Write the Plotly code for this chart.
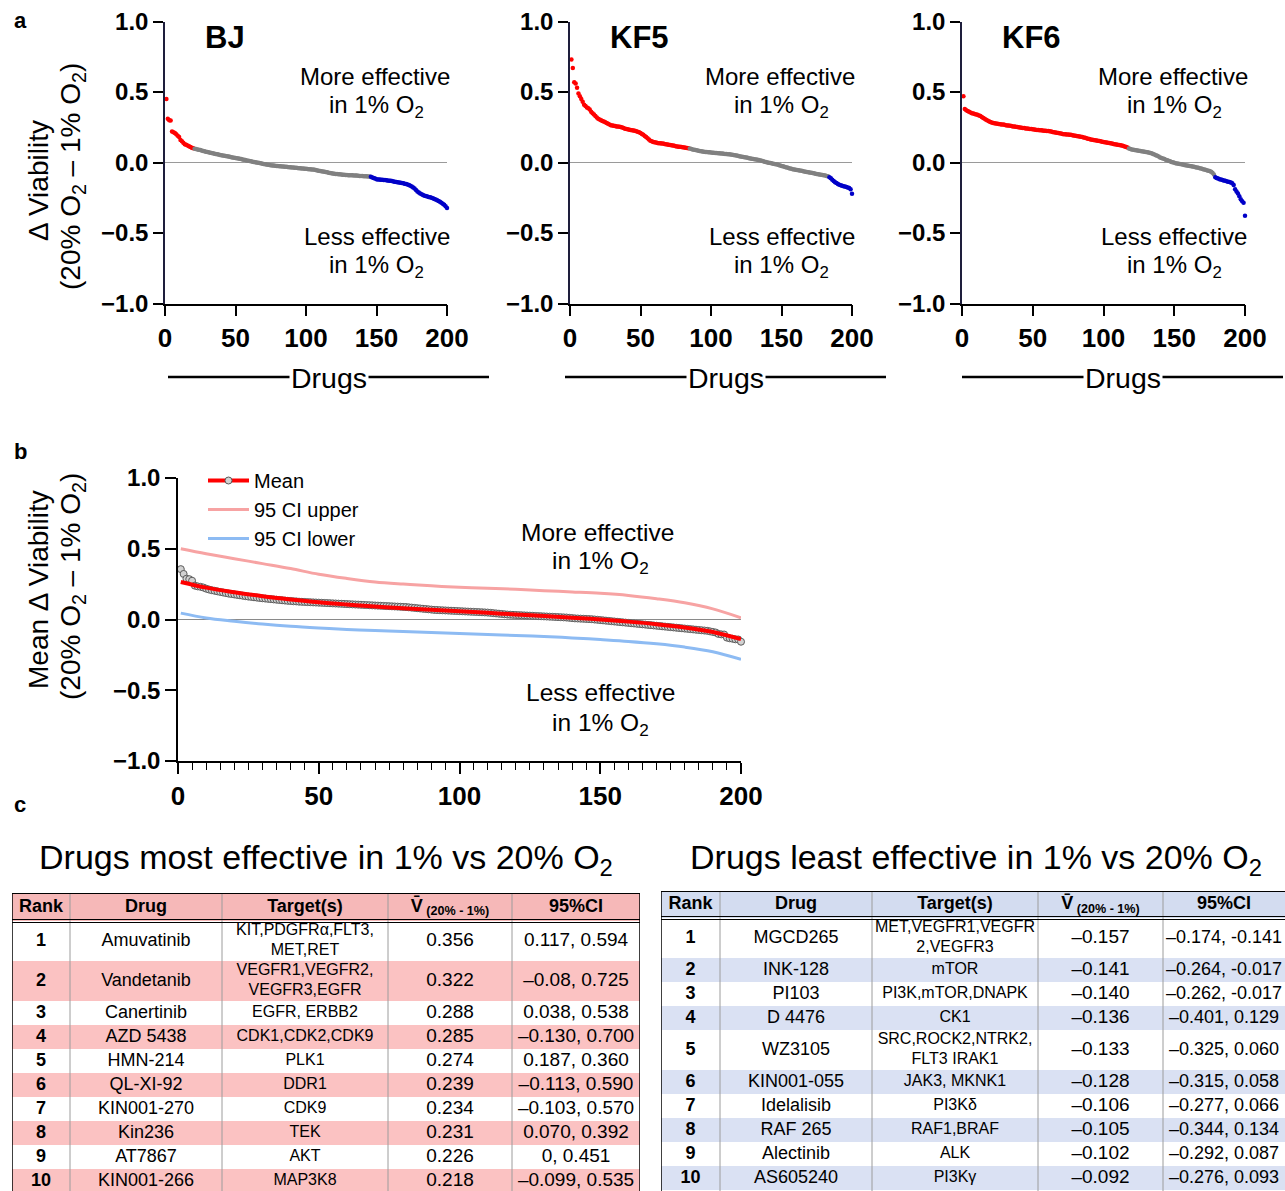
import plotly.graph_objects as go

W, H = 1285, 1191
FONT = "Liberation Sans, Arial, sans-serif"

# ---------------- data: panel a (sorted delta viability, 200 drugs) ----------------
bj_delta = [
    0.450, 0.310, 0.300, 0.298, 0.220, 0.215, 0.210, 0.200, 0.190, 0.180,
    0.160, 0.150, 0.140, 0.130, 0.125, 0.120, 0.115, 0.110, 0.105, 0.101,
    0.098, 0.095, 0.093, 0.090, 0.088, 0.085, 0.082, 0.080, 0.077, 0.075,
    0.072, 0.070, 0.067, 0.065, 0.062, 0.060, 0.058, 0.056, 0.054, 0.052,
    0.050, 0.048, 0.046, 0.044, 0.042, 0.040, 0.038, 0.036, 0.034, 0.032,
    0.030, 0.028, 0.026, 0.024, 0.022, 0.020, 0.017, 0.014, 0.012, 0.010,
    0.008, 0.006, 0.004, 0.002, 0.000, -0.002, -0.004, -0.006, -0.008, -0.010,
    -0.012, -0.014, -0.016, -0.018, -0.020, -0.021, -0.022, -0.023, -0.024, -0.025,
    -0.026, -0.027, -0.028, -0.029, -0.030, -0.031, -0.032, -0.033, -0.034, -0.035,
    -0.036, -0.037, -0.038, -0.039, -0.040, -0.041, -0.042, -0.043, -0.044, -0.045,
    -0.046, -0.047, -0.048, -0.049, -0.050, -0.052, -0.054, -0.056, -0.058, -0.060,
    -0.062, -0.064, -0.066, -0.068, -0.070, -0.072, -0.074, -0.076, -0.078, -0.080,
    -0.081, -0.082, -0.083, -0.084, -0.085, -0.086, -0.087, -0.088, -0.089, -0.090,
    -0.090, -0.091, -0.091, -0.092, -0.093, -0.093, -0.094, -0.095, -0.095, -0.096,
    -0.097, -0.097, -0.098, -0.099, -0.099, -0.101, -0.106, -0.110, -0.114, -0.118,
    -0.120, -0.121, -0.122, -0.123, -0.124, -0.125, -0.126, -0.128, -0.129, -0.130,
    -0.132, -0.134, -0.136, -0.138, -0.140, -0.142, -0.144, -0.146, -0.148, -0.150,
    -0.153, -0.156, -0.160, -0.165, -0.170, -0.177, -0.185, -0.195, -0.205, -0.213,
    -0.220, -0.226, -0.231, -0.235, -0.238, -0.241, -0.244, -0.247, -0.250, -0.253,
    -0.258, -0.263, -0.268, -0.273, -0.279, -0.285, -0.292, -0.300, -0.310, -0.322,
]

kf5_delta = [
    0.730, 0.670, 0.570, 0.560, 0.530, 0.490, 0.470, 0.450, 0.430, 0.410,
    0.400, 0.390, 0.385, 0.375, 0.360, 0.350, 0.340, 0.330, 0.320, 0.310,
    0.305, 0.300, 0.295, 0.290, 0.285, 0.280, 0.275, 0.270, 0.265, 0.262,
    0.260, 0.258, 0.256, 0.255, 0.254, 0.252, 0.248, 0.244, 0.240, 0.237,
    0.235, 0.233, 0.231, 0.229, 0.227, 0.225, 0.222, 0.218, 0.214, 0.209,
    0.203, 0.196, 0.188, 0.180, 0.172, 0.163, 0.155, 0.150, 0.146, 0.143,
    0.141, 0.139, 0.137, 0.136, 0.135, 0.134, 0.132, 0.130, 0.128, 0.126,
    0.124, 0.122, 0.120, 0.118, 0.116, 0.114, 0.112, 0.111, 0.110, 0.108,
    0.106, 0.104, 0.102, 0.101, 0.099, 0.096, 0.093, 0.090, 0.088, 0.086,
    0.084, 0.082, 0.080, 0.078, 0.077, 0.075, 0.074, 0.073, 0.072, 0.071,
    0.070, 0.069, 0.068, 0.067, 0.066, 0.065, 0.064, 0.063, 0.062, 0.061,
    0.060, 0.059, 0.058, 0.056, 0.055, 0.053, 0.051, 0.049, 0.047, 0.045,
    0.043, 0.041, 0.039, 0.037, 0.035, 0.033, 0.031, 0.029, 0.027, 0.025,
    0.023, 0.021, 0.019, 0.017, 0.015, 0.012, 0.009, 0.006, 0.003, 0.000,
    -0.002, -0.004, -0.006, -0.008, -0.010, -0.012, -0.015, -0.018, -0.021, -0.024,
    -0.027, -0.030, -0.033, -0.036, -0.039, -0.042, -0.045, -0.047, -0.049, -0.051,
    -0.053, -0.055, -0.057, -0.059, -0.061, -0.063, -0.065, -0.067, -0.069, -0.071,
    -0.073, -0.075, -0.077, -0.079, -0.081, -0.083, -0.085, -0.087, -0.089, -0.091,
    -0.093, -0.095, -0.098, -0.104, -0.112, -0.122, -0.132, -0.140, -0.146, -0.152,
    -0.158, -0.162, -0.165, -0.168, -0.171, -0.174, -0.177, -0.180, -0.190, -0.222,
]

kf6_delta = [
    0.470, 0.380, 0.370, 0.365, 0.360, 0.355, 0.350, 0.347, 0.344, 0.341,
    0.338, 0.334, 0.329, 0.322, 0.316, 0.310, 0.304, 0.298, 0.292, 0.287,
    0.283, 0.280, 0.278, 0.276, 0.275, 0.273, 0.272, 0.270, 0.269, 0.267,
    0.265, 0.263, 0.262, 0.260, 0.258, 0.256, 0.255, 0.253, 0.251, 0.250,
    0.248, 0.247, 0.245, 0.244, 0.242, 0.241, 0.240, 0.238, 0.237, 0.235,
    0.234, 0.232, 0.231, 0.230, 0.229, 0.228, 0.227, 0.226, 0.225, 0.224,
    0.223, 0.221, 0.219, 0.217, 0.215, 0.213, 0.211, 0.209, 0.207, 0.205,
    0.203, 0.201, 0.200, 0.199, 0.198, 0.197, 0.196, 0.194, 0.192, 0.190,
    0.188, 0.186, 0.184, 0.182, 0.180, 0.178, 0.175, 0.172, 0.169, 0.166,
    0.164, 0.162, 0.160, 0.158, 0.156, 0.154, 0.152, 0.150, 0.148, 0.146,
    0.144, 0.142, 0.140, 0.138, 0.136, 0.134, 0.132, 0.130, 0.128, 0.126,
    0.124, 0.122, 0.120, 0.117, 0.114, 0.110, 0.106, 0.099, 0.096, 0.093,
    0.091, 0.089, 0.087, 0.085, 0.083, 0.081, 0.079, 0.078, 0.077, 0.075,
    0.073, 0.071, 0.068, 0.065, 0.061, 0.057, 0.052, 0.047, 0.042, 0.036,
    0.032, 0.028, 0.024, 0.020, 0.016, 0.012, 0.008, 0.004, 0.001, -0.002,
    -0.005, -0.007, -0.009, -0.011, -0.013, -0.015, -0.017, -0.019, -0.021, -0.023,
    -0.025, -0.027, -0.029, -0.031, -0.033, -0.035, -0.037, -0.040, -0.043, -0.046,
    -0.049, -0.052, -0.055, -0.058, -0.061, -0.065, -0.072, -0.085, -0.104, -0.110,
    -0.114, -0.118, -0.121, -0.124, -0.127, -0.130, -0.133, -0.136, -0.139, -0.142,
    -0.148, -0.160, -0.190, -0.205, -0.220, -0.240, -0.260, -0.275, -0.285, -0.378,
]

# ---------------- data: tables (panel c) ----------------
ranks = list(range(1, 11))
table_headers = ["Rank", "Drug", "Target(s)", "V\u0304", "95%CI"]
v_header_sub = "(20% - 1%)"

drugs_most = ["Amuvatinib", "Vandetanib", "Canertinib", "AZD 5438", "HMN-214",
              "QL-XI-92", "KIN001-270", "Kin236", "AT7867", "KIN001-266"]
targets_most = ["KIT,PDGFRα,FLT3,<br>MET,RET", "VEGFR1,VEGFR2,<br>VEGFR3,EGFR", "EGFR, ERBB2",
                "CDK1,CDK2,CDK9", "PLK1", "DDR1", "CDK9", "TEK", "AKT", "MAP3K8"]
v_most = [0.356, 0.322, 0.288, 0.285, 0.274, 0.239, 0.234, 0.231, 0.226, 0.218]
ci_most = ["0.117, 0.594", "\u20130.08, 0.725", "0.038, 0.538", "\u20130.130, 0.700", "0.187, 0.360",
           "\u20130.113, 0.590", "\u20130.103, 0.570", "0.070, 0.392", "0, 0.451", "\u20130.099, 0.535"]

drugs_least = ["MGCD265", "INK-128", "PI103", "D 4476", "WZ3105",
               "KIN001-055", "Idelalisib", "RAF 265", "Alectinib", "AS605240"]
targets_least = ["MET,VEGFR1,VEGFR<br>2,VEGFR3", "mTOR", "PI3K,mTOR,DNAPK", "CK1",
                 "SRC,ROCK2,NTRK2,<br>FLT3 IRAK1", "JAK3, MKNK1", "PI3Kδ", "RAF1,BRAF", "ALK", "PI3Kγ"]
v_least = [-0.157, -0.141, -0.140, -0.136, -0.133, -0.128, -0.106, -0.105, -0.102, -0.092]
ci_least = ["\u20130.174, -0.141", "\u20130.264, -0.017", "\u20130.262, -0.017", "\u20130.401, 0.129",
            "\u20130.325, 0.060", "\u20130.315, 0.058", "\u20130.277, 0.066", "\u20130.344, 0.134",
            "\u20130.292, 0.087", "\u20130.276, 0.093"]

# ---------------- data: panel b (mean delta viability, ranks 11..190) ----------------
mean_mid = [
    0.212, 0.207, 0.203, 0.199, 0.195, 0.191, 0.187, 0.183, 0.180, 0.177,
    0.174, 0.171, 0.168, 0.165, 0.162, 0.160, 0.157, 0.155, 0.152, 0.150,
    0.148, 0.146, 0.144, 0.142, 0.140, 0.138, 0.136, 0.134, 0.132, 0.131,
    0.129, 0.128, 0.126, 0.125, 0.124, 0.123, 0.122, 0.121, 0.120, 0.119,
    0.118, 0.117, 0.116, 0.115, 0.114, 0.113, 0.112, 0.111, 0.110, 0.109,
    0.108, 0.107, 0.106, 0.105, 0.104, 0.103, 0.102, 0.101, 0.100, 0.099,
    0.098, 0.097, 0.096, 0.095, 0.094, 0.093, 0.092, 0.091, 0.090, 0.089,
    0.088, 0.086, 0.084, 0.082, 0.080, 0.078, 0.076, 0.074, 0.072, 0.070,
    0.068, 0.067, 0.066, 0.065, 0.064, 0.063, 0.062, 0.061, 0.060, 0.059,
    0.058, 0.057, 0.056, 0.055, 0.054, 0.053, 0.052, 0.051, 0.050, 0.049,
    0.047, 0.045, 0.043, 0.041, 0.039, 0.037, 0.035, 0.034, 0.033, 0.032,
    0.031, 0.030, 0.029, 0.028, 0.027, 0.026, 0.025, 0.024, 0.023, 0.022,
    0.021, 0.020, 0.019, 0.018, 0.017, 0.016, 0.015, 0.014, 0.012, 0.010,
    0.008, 0.007, 0.006, 0.005, 0.004, 0.003, 0.002, 0.000, -0.002, -0.004,
    -0.006, -0.008, -0.010, -0.012, -0.014, -0.016, -0.018, -0.020, -0.022, -0.024,
    -0.026, -0.028, -0.030, -0.032, -0.034, -0.036, -0.038, -0.040, -0.042, -0.044,
    -0.046, -0.048, -0.050, -0.052, -0.054, -0.056, -0.058, -0.060, -0.062, -0.064,
    -0.066, -0.068, -0.070, -0.072, -0.074, -0.076, -0.078, -0.080, -0.084, -0.088,
]
mean_delta = v_most + mean_mid + v_least[::-1]

fit_rank = [1, 10, 20, 30, 40, 50, 60, 70, 80, 90, 100, 110, 120, 130, 140, 150, 160, 170, 180, 190, 200]
fit_mean = [0.265, 0.225, 0.193, 0.165, 0.142, 0.122, 0.106, 0.092, 0.080, 0.069, 0.058,
            0.047, 0.036, 0.025, 0.013, 0.000, -0.015, -0.033, -0.056, -0.088, -0.138]
ci_upper = [0.500, 0.465, 0.430, 0.395, 0.360, 0.320, 0.290, 0.265, 0.250, 0.238, 0.228,
            0.221, 0.213, 0.204, 0.195, 0.185, 0.170, 0.147, 0.118, 0.075, 0.012]
ci_lower = [0.045, 0.011, -0.012, -0.032, -0.048, -0.060, -0.070, -0.078, -0.085, -0.092, -0.099,
            -0.106, -0.113, -0.120, -0.130, -0.142, -0.155, -0.172, -0.195, -0.228, -0.282]

assert len(bj_delta) == 200 and len(kf5_delta) == 200 and len(kf6_delta) == 200
assert len(mean_delta) == 200

# ---------------- style ----------------
RED, GRAY, BLUE = "#ff0000", "#808080", "#0000c8"
PINK_LINE, BLUE_LINE = "#f7a3a3", "#8dbbf3"
PINK_H, PINK_R = "#f6b8b8", "#fbc2c2"
BLUE_H, BLUE_R = "#d3dcf0", "#dae1f3"
ROW_H, ROW_H2 = 24, 40


def px(x):
    return x / W


def py(y):
    return 1 - y / H


fig = go.Figure()
shapes = []
lay = {}

# ---------------- panel a ----------------
panels = [("BJ", bj_delta, "", 165, 447), ("KF5", kf5_delta, "2", 570, 852), ("KF6", kf6_delta, "3", 962, 1245)]
for name, vals, n, x0, x1 in panels:
    ranks_all = list(range(1, len(vals) + 1))
    cols = [RED if v >= 0.1 else (BLUE if v <= -0.1 else GRAY) for v in vals]
    fig.add_trace(go.Scatter(x=ranks_all, y=vals, mode="markers", xaxis="x" + n, yaxis="y" + n,
                             marker=dict(color=cols, size=4.5, line=dict(width=0)),
                             showlegend=False, cliponaxis=False, hoverinfo="x+y"))

# ---------------- panel b ----------------
rank_all = list(range(1, len(mean_delta) + 1))
fig.add_trace(go.Scatter(x=rank_all, y=mean_delta, mode="markers", xaxis="x4", yaxis="y4",
                         marker=dict(color="#d2d2d2", size=7, line=dict(color="#5a5a5a", width=1)),
                         showlegend=False, cliponaxis=False))
fig.add_trace(go.Scatter(x=fit_rank, y=fit_mean, mode="lines", xaxis="x4", yaxis="y4",
                         line=dict(color=RED, width=4, shape="spline"), showlegend=False))
fig.add_trace(go.Scatter(x=[None], y=[None], mode="lines+markers", xaxis="x4", yaxis="y4", name="Mean",
                         line=dict(color=RED, width=4),
                         marker=dict(color="#d2d2d2", size=7, line=dict(color="#5a5a5a", width=1))))
fig.add_trace(go.Scatter(x=fit_rank, y=ci_upper, mode="lines", xaxis="x4", yaxis="y4", name="95 CI upper",
                         line=dict(color=PINK_LINE, width=3, shape="spline")))
fig.add_trace(go.Scatter(x=fit_rank, y=ci_lower, mode="lines", xaxis="x4", yaxis="y4", name="95 CI lower",
                         line=dict(color=BLUE_LINE, width=3, shape="spline")))


# ---------------- panel c tables (cells drawn as bars + text on hidden axes) ----------------
def add_table(n, drugs, targets, vals, cis, hfill, rfill, x0, ytop, col_w, head_h, sizes):
    xa, ya = "x" + n, "y" + n
    row_h = [ROW_H2 if "<br>" in t else ROW_H for t in targets]
    tops, acc = [], head_h
    for h in row_h:
        tops.append(acc)
        acc += h
    centers = [t + h / 2 for t, h in zip(tops, row_h)]
    lefts, a = [], 0
    for w in col_w:
        lefts.append(a)
        a += w
    total = a
    vis_w = min(total, W - x0)
    mids = [(l + min(l + w, vis_w)) / 2 for l, w in zip(lefts, col_w)]
    row_fill = ["white" if i % 2 == 0 else rfill for i in range(len(drugs))]
    vtxt = [("%.3f" % v).replace("-", "\u2013") for v in vals]
    columns = [["<b>%d</b>" % r for r in ranks], drugs, targets, vtxt, cis]
    headers = ["<b>%s</b>" % h for h in table_headers]
    headers[3] = "<b>%s</b><sub><b> %s</b></sub>" % (table_headers[3], v_header_sub)

    # header cells
    fig.add_trace(go.Bar(orientation="h", y=[head_h / 2] * len(col_w), x=col_w, base=lefts,
                         width=[head_h] * len(col_w), marker=dict(color=hfill, line=dict(width=0)),
                         xaxis=xa, yaxis=ya, showlegend=False, hoverinfo="skip"))
    fig.add_trace(go.Scatter(x=mids, y=[head_h / 2] * len(col_w),
                             text=headers, mode="text", textposition="middle center",
                             textfont=dict(family=FONT, size=18, color="black"),
                             xaxis=xa, yaxis=ya, showlegend=False, hoverinfo="skip", cliponaxis=False))
    # body cells
    for j in range(len(col_w)):
        fig.add_trace(go.Bar(orientation="h", y=centers, x=[col_w[j]] * len(centers),
                             base=[lefts[j]] * len(centers), width=row_h,
                             marker=dict(color=row_fill, line=dict(width=0)),
                             xaxis=xa, yaxis=ya, showlegend=False, hoverinfo="skip"))
        fig.add_trace(go.Scatter(x=[mids[j]] * len(centers), y=centers, text=columns[j],
                                 mode="text", textposition="middle center",
                                 textfont=dict(family=FONT, size=sizes[j], color="black"),
                                 xaxis=xa, yaxis=ya, showlegend=False, hoverinfo="skip", cliponaxis=False))
    span = H - ytop
    lay["xaxis" + n] = dict(domain=[px(x0), px(x0 + vis_w)], range=[0, vis_w], anchor=ya, visible=False,
                            fixedrange=True)
    lay["yaxis" + n] = dict(domain=[0, py(ytop)], range=[span, 0], anchor=xa, visible=False, fixedrange=True)
    # grid lines
    for l in lefts[1:]:
        shapes.append(dict(type="line", xref=xa, yref=ya, x0=l, x1=l, y0=0, y1=span,
                           line=dict(color="#9c9c9c", width=1)))
    shapes.append(dict(type="line", xref=xa, yref=ya, x0=0, x1=0, y0=0, y1=span,
                       line=dict(color="black", width=1.5)))
    if total <= vis_w:
        shapes.append(dict(type="line", xref=xa, yref=ya, x0=total, x1=total, y0=0, y1=span,
                           line=dict(color="black", width=1.5)))
    shapes.append(dict(type="line", xref=xa, yref=ya, x0=0, x1=total, y0=0, y1=0,
                       line=dict(color="black", width=2)))
    for dy in (-1.5, 1.5):
        shapes.append(dict(type="line", xref=xa, yref=ya, x0=0, x1=total, y0=head_h + dy, y1=head_h + dy,
                           line=dict(color="black", width=1.2)))


add_table("5", drugs_most, targets_most, v_most, ci_most, PINK_H, PINK_R, 12, 893,
          [58, 152, 166, 124, 128], 28, [18, 18, 16, 19, 19])
add_table("6", drugs_least, targets_least, v_least, ci_least, BLUE_H, BLUE_R, 661, 891,
          [59, 152, 166, 125, 128], 27, [18, 18, 16, 19, 18])

# ---------------- axes ----------------
tick_font = dict(family=FONT, size=24, color="black", weight="bold")
xtick_font = dict(family=FONT, size=26, color="black", weight="bold")
ya_top, ya_bot = 21.5, 303.5
for name, vals, n, x0, x1 in panels:
    lay["xaxis" + n] = dict(domain=[px(x0), px(x1)], range=[0, 200], anchor="y" + n,
                            tickvals=[0, 50, 100, 150, 200], ticks="outside", ticklen=11, tickwidth=1.5,
                            tickcolor="black", showline=True, linecolor="black", linewidth=1.5,
                            showgrid=False, zeroline=False, tickfont=xtick_font, fixedrange=True,
                            automargin=False)
    lay["yaxis" + n] = dict(domain=[py(ya_bot), py(ya_top)], range=[-1, 1], anchor="x" + n,
                            tickvals=[-1, -0.5, 0, 0.5, 1], tickformat=".1f", ticks="outside", ticklen=10,
                            tickwidth=1.5, tickcolor="black", showline=True, linecolor="#1e1e3c", linewidth=1.5,
                            showgrid=False, zeroline=True, zerolinecolor="#9a9a9a", zerolinewidth=1.2,
                            tickfont=tick_font, fixedrange=True, automargin=False)

lay["xaxis4"] = dict(domain=[px(178), px(741)], range=[0, 200], anchor="y4",
                     tickvals=[0, 50, 100, 150, 200], ticks="outside", ticklen=11, tickwidth=1.5,
                     tickcolor="black", showline=True, linecolor="black", linewidth=1.5,
                     minor=dict(dtick=5, ticks="outside", ticklen=7, tickwidth=1.2, tickcolor="black", showgrid=False),
                     showgrid=False, zeroline=False, tickfont=xtick_font, fixedrange=True, automargin=False)
lay["yaxis4"] = dict(domain=[py(761), py(478)], range=[-1, 1], anchor="x4",
                     tickvals=[-1, -0.5, 0, 0.5, 1], tickformat=".1f", ticks="outside", ticklen=11,
                     tickwidth=1.5, tickcolor="black", showline=True, linecolor="black", linewidth=1.5,
                     showgrid=False, zeroline=True, zerolinecolor="#8a8a8a", zerolinewidth=1.2,
                     tickfont=tick_font, fixedrange=True, automargin=False)

# ---------------- annotations ----------------
ann = []


def txt(x, y, s, size, xref="paper", yref="paper", bold=False, **kw):
    d = dict(x=x, y=y, xref=xref, yref=yref, text=s, showarrow=False,
             font=dict(family=FONT, size=size, color="black", weight="bold" if bold else "normal"))
    d.update(kw)
    ann.append(d)


# panel letters
txt(px(12), py(20), "a", 22, bold=True, xanchor="left", yanchor="middle")
txt(px(12), py(452), "b", 22, bold=True, xanchor="left", yanchor="middle")
txt(px(12), py(804), "c", 22, bold=True, xanchor="left", yanchor="middle")

O2 = "O<sub>2</sub>"
for name, vals, n, x0, x1 in panels:
    xr, yr = "x" + n, "y" + n
    txt(27, 0.885, name, 31, xref=xr, yref=yr, bold=True, xanchor="left", yanchor="middle")
    txt(149, 0.612, "More effective", 24, xref=xr, yref=yr, xanchor="center", yanchor="middle")
    txt(150, 0.40, "in 1% " + O2, 24, xref=xr, yref=yr, xanchor="center", yanchor="middle")
    txt(150, -0.528, "Less effective", 24, xref=xr, yref=yr, xanchor="center", yanchor="middle")
    txt(150, -0.74, "in 1% " + O2, 24, xref=xr, yref=yr, xanchor="center", yanchor="middle")

# "Drugs" labels with lines
drug_lines = [(168, 489), (565, 886), (962, 1283)]
for a0, a1 in drug_lines:
    shapes.append(dict(type="line", xref="paper", yref="paper", x0=px(a0), x1=px(a1),
                       y0=py(377), y1=py(377), line=dict(color="black", width=2.5)))
    txt(px((a0 + a1) / 2), py(378), "Drugs", 28.5, xanchor="center", yanchor="middle",
        bgcolor="white", borderpad=1)

# y-axis titles (one annotation per line)
ytitle2 = "(20% " + O2 + " \u2013 1% " + O2 + ")"
txt(px(38), py(181), "\u0394 Viability", 28, textangle=-90, xanchor="center", yanchor="middle")
txt(px(72), py(177), ytitle2, 28, textangle=-90, xanchor="center", yanchor="middle")
txt(px(38), py(590), "Mean \u0394 Viability", 28, textangle=-90, xanchor="center", yanchor="middle")
txt(px(72), py(587), ytitle2, 28, textangle=-90, xanchor="center", yanchor="middle")

# panel b texts
txt(149, 0.618, "More effective", 24.5, xref="x4", yref="y4", xanchor="center", yanchor="middle")
txt(150, 0.40, "in 1% " + O2, 24.5, xref="x4", yref="y4", xanchor="center", yanchor="middle")
txt(150, -0.519, "Less effective", 24.5, xref="x4", yref="y4", xanchor="center", yanchor="middle")
txt(150, -0.739, "in 1% " + O2, 24.5, xref="x4", yref="y4", xanchor="center", yanchor="middle")

# table titles
txt(px(326), py(859), "Drugs most effective in 1% vs 20% " + O2, 34, xanchor="center", yanchor="middle")
txt(px(976), py(859), "Drugs least effective in 1% vs 20% " + O2, 34, xanchor="center", yanchor="middle")

fig.update_layout(
    width=W, height=H, margin=dict(l=0, r=0, t=0, b=0, pad=0, autoexpand=False),
    paper_bgcolor="white", plot_bgcolor="white",
    font=dict(family=FONT, color="black"),
    barmode="overlay",
    showlegend=True,
    legend=dict(x=px(203), y=py(461), xanchor="left", yanchor="top", bgcolor="rgba(0,0,0,0)",
                font=dict(family=FONT, size=20, color="black"), itemwidth=41, tracegroupgap=0),
    annotations=ann, shapes=shapes, **lay,
)

fig.write_html("out.html", config={"displayModeBar": False, "staticPlot": False},
               post_script="document.body.style.margin='0px';document.body.style.padding='0px';")
